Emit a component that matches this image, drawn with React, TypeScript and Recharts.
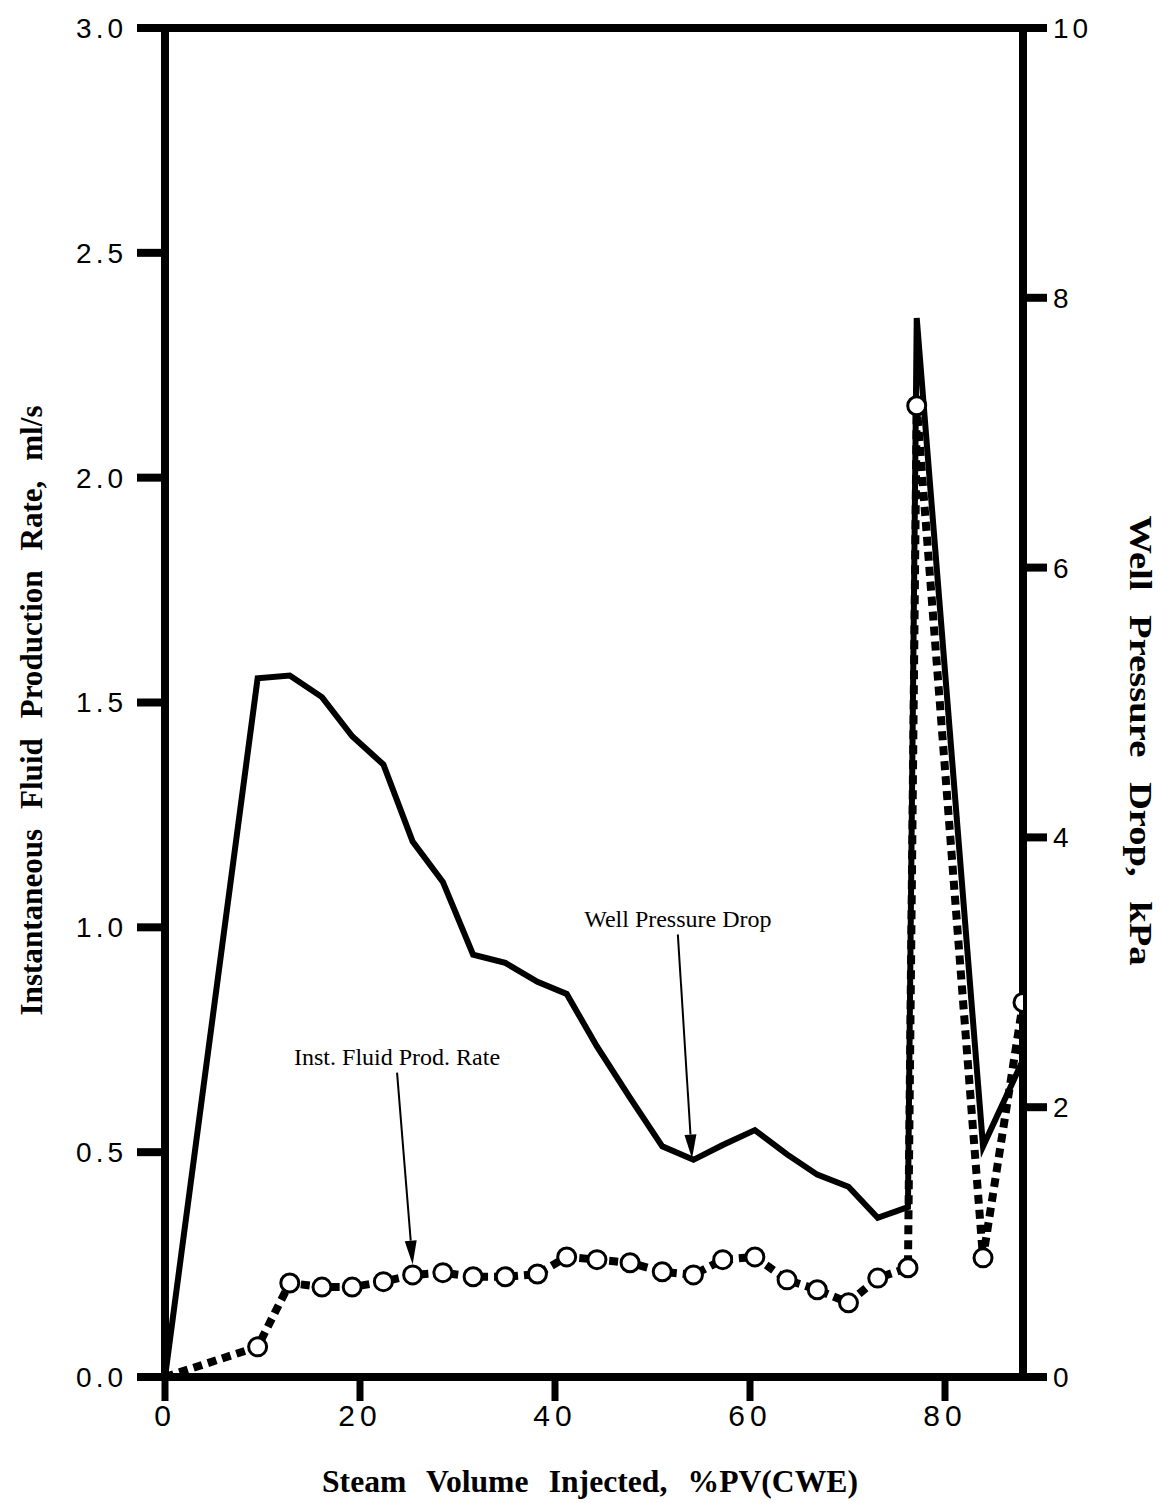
import { ComposedChart, Line, XAxis, YAxis, ReferenceLine } from 'recharts';

// steam volume injected, %PV(CWE) - shared by both series
const steamVolume = [0, 9.5, 12.8, 16.1, 19.2, 22.4, 25.4, 28.5, 31.6, 34.9, 38.2, 41.2, 44.3, 47.7, 51.0, 54.2, 57.2, 60.5, 63.8, 66.9, 70.1, 73.1, 76.2, 77.1, 83.9, 88.0];
// instantaneous fluid production rate, ml/s (left axis)
const fluidRate = [0, 0.067, 0.209, 0.2, 0.2, 0.212, 0.227, 0.232, 0.223, 0.223, 0.229, 0.267, 0.261, 0.254, 0.234, 0.227, 0.261, 0.267, 0.216, 0.194, 0.165, 0.22, 0.243, 2.16, 0.265, 0.833];
// well pressure drop, kPa (right axis)
const pressureDrop = [0, 5.18, 5.2, 5.04, 4.75, 4.54, 3.97, 3.67, 3.13, 3.07, 2.93, 2.84, 2.45, 2.07, 1.71, 1.61, 1.72, 1.83, 1.65, 1.5, 1.41, 1.18, 1.26, 7.85, 1.71, 2.35];

const xTicks = [0, 20, 40, 60, 80];
const leftTicks = [0, 0.5, 1, 1.5, 2, 2.5, 3];
const rightTicks = [0, 2, 4, 6, 8, 10];

// annotation arrows: [start, end] in data units
const pressureArrow = [{ x: 52.6, y: 3.28 }, { x: 54.05, y: 1.62 }];
const rateArrow = [{ x: 23.8, y: 0.677 }, { x: 25.4, y: 0.25 }];

const data = steamVolume.map((v, i) => ({
  volume: v,
  rate: fluidRate[i],
  pressure: pressureDrop[i],
}));

const tickFont = { fontFamily: 'Liberation Sans, Arial, sans-serif', fontSize: 28, fill: '#000', letterSpacing: 4 };
const titleFont = { fontFamily: 'Liberation Serif, Times New Roman, serif', fontWeight: 700, fontSize: 31, fill: '#000', wordSpacing: 12 };

const Arrow = (props: any) => {
  const { x1, y1, x2, y2, text } = props;
  const dx = x2 - x1;
  const dy = y2 - y1;
  const len = Math.sqrt(dx * dx + dy * dy);
  const ux = dx / len;
  const uy = dy / len;
  const head = 24;
  const half = 6;
  const bx = x2 - ux * head;
  const by = y2 - uy * head;
  return (
    <g>
      <text x={x1} y={y1 - 8} textAnchor="middle" style={{ fontFamily: 'Liberation Serif, Times New Roman, serif', fontSize: 24, fill: '#000' }}>
        {text}
      </text>
      <line x1={x1} y1={y1} x2={bx} y2={by} stroke="#000" strokeWidth={2} />
      <polygon
        points={`${x2},${y2} ${bx - uy * half},${by + ux * half} ${bx + uy * half},${by - ux * half}`}
        fill="#000"
      />
    </g>
  );
};

const renderDot = (p: any) => {
  if (p.index === 0) return <g key={`d-${p.index}`} />;
  return <circle key={`d-${p.index}`} cx={p.cx} cy={p.cy} r={9} fill="#fff" stroke="#000" strokeWidth={3} />;
};

export default function App() {
  return (
    <div style={{ position: 'absolute', left: 0, top: 0, background: '#fff' }}>
      <ComposedChart width={1162} height={1503} data={data} margin={{ top: 28, right: 0, bottom: 0, left: 0 }}>
        <XAxis
          dataKey="volume"
          type="number"
          domain={[0, 88]}
          ticks={xTicks}
          allowDataOverflow
          height={126}
          axisLine={{ stroke: '#000', strokeWidth: 8 }}
          tickLine={{ stroke: '#000', strokeWidth: 7 }}
          tickSize={24}
          tickMargin={4}
          tick={{ ...tickFont, fontSize: 30, letterSpacing: 5 }}
          label={(p: any) => {
            const vb = p.viewBox;
            return (
              <text x={vb.x + vb.width / 2 - 4} y={vb.y + 115} textAnchor="middle" textLength={536} lengthAdjust="spacingAndGlyphs" style={titleFont}>
                Steam Volume Injected, %PV(CWE)
              </text>
            );
          }}
        />
        <YAxis
          yAxisId="left"
          domain={[0, 3]}
          ticks={leftTicks}
          width={165}
          tickFormatter={(v: number) => v.toFixed(1)}
          axisLine={{ stroke: '#000', strokeWidth: 8 }}
          tickLine={{ stroke: '#000', strokeWidth: 8 }}
          tickSize={28}
          tickMargin={10}
          tick={tickFont}
          label={(p: any) => {
            const vb = p.viewBox;
            const cx = vb.x + 31;
            const cy = vb.y + vb.height / 2 + 8;
            return (
              <text x={cx} y={cy} transform={`rotate(-90 ${cx} ${cy})`} textAnchor="middle" dominantBaseline="central" textLength={610} lengthAdjust="spacingAndGlyphs" style={titleFont}>
                Instantaneous Fluid Production Rate, ml/s
              </text>
            );
          }}
        />
        <YAxis
          yAxisId="right"
          orientation="right"
          domain={[0, 10]}
          ticks={rightTicks}
          width={139}
          axisLine={{ stroke: '#000', strokeWidth: 8 }}
          tickLine={{ stroke: '#000', strokeWidth: 8 }}
          tickSize={24}
          tickMargin={6}
          tick={tickFont}
          label={(p: any) => {
            const vb = p.viewBox;
            const cx = vb.x + 117;
            const cy = vb.y + vb.height / 2 + 38;
            return (
              <text x={cx} y={cy} transform={`rotate(90 ${cx} ${cy})`} textAnchor="middle" dominantBaseline="central" textLength={450} lengthAdjust="spacingAndGlyphs" style={titleFont}>
                Well Pressure Drop, kPa
              </text>
            );
          }}
        />
        <ReferenceLine yAxisId="left" y={3} stroke="#000" strokeWidth={8} />
        <Line
          yAxisId="right"
          dataKey="pressure"
          type="linear"
          stroke="#000"
          strokeWidth={6}
          dot={false}
          isAnimationActive={false}
        />
        <Line
          yAxisId="left"
          dataKey="rate"
          type="linear"
          stroke="#000"
          strokeWidth={8}
          strokeDasharray="9 6"
          dot={renderDot}
          isAnimationActive={false}
        />
        <ReferenceLine
          yAxisId="right"
          segment={pressureArrow}
          shape={(p: any) => <Arrow {...p} text="Well Pressure Drop" />}
        />
        <ReferenceLine
          yAxisId="left"
          segment={rateArrow}
          shape={(p: any) => <Arrow {...p} text="Inst. Fluid Prod. Rate" />}
        />
      </ComposedChart>
    </div>
  );
}
